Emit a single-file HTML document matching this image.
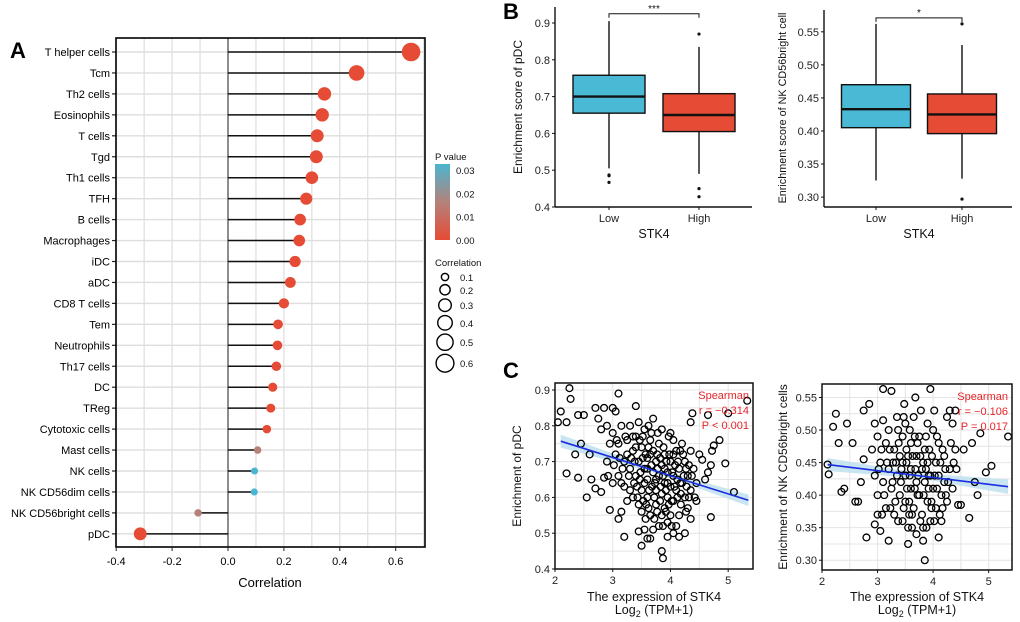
<!DOCTYPE html>
<html><head><meta charset="utf-8">
<style>
html,body{margin:0;padding:0;background:#fff;}
svg{display:block;font-family:"Liberation Sans",Arial,sans-serif;}
</style></head>
<body>
<svg id="fig" width="1020" height="622" viewBox="0 0 1020 622">
<text x="10" y="58" font-size="22" font-weight="bold">A</text>
<text x="503" y="19" font-size="22" font-weight="bold">B</text>
<text x="503" y="378" font-size="22" font-weight="bold">C</text>
<g id="pa"></g>
<g id="pb1"></g>
<g id="pb2"></g>
<g id="pc1"></g>
<g id="pc2"></g>
</svg>
<script>
// ---------- Panel A data ----------
const cellTypes = ["T helper cells","Tcm","Th2 cells","Eosinophils","T cells","Tgd","Th1 cells","TFH","B cells","Macrophages","iDC","aDC","CD8 T cells","Tem","Neutrophils","Th17 cells","DC","TReg","Cytotoxic cells","Mast cells","NK cells","NK CD56dim cells","NK CD56bright cells","pDC"];
const corrValues = [0.655,0.46,0.345,0.337,0.319,0.316,0.30,0.28,0.258,0.255,0.24,0.223,0.2,0.179,0.177,0.173,0.16,0.153,0.139,0.106,0.095,0.094,-0.107,-0.314];
const pValues = [0,0,0,0,0,0,0,0,0,0,0,0,0,0,0,0,0,0,0,0.017,0.03,0.031,0.017,0];
const corrTicks = [-0.4,-0.2,0.0,0.2,0.4,0.6];
const corrTickLabels = ["-0.4","-0.2","0.0","0.2","0.4","0.6"];
const pLegendTicks = [0.03,0.02,0.01,0.00];
const sizeLegend = [0.1,0.2,0.3,0.4,0.5,0.6];

// ---------- Panel B data ----------
const groups = ["Low","High"];
const pdcBox = [[0.505,0.655,0.70,0.758,0.905],[0.49,0.605,0.65,0.708,0.835]];
const pdcOut = [[0.487,0.485,0.467],[0.87,0.45,0.428]];
const pdcTicks = [0.4,0.5,0.6,0.7,0.8,0.9];
const nkBox = [[0.325,0.405,0.433,0.47,0.562],[0.328,0.396,0.425,0.456,0.53]];
const nkOut = [[],[0.297,0.562]];
const nkTicks = [0.30,0.35,0.40,0.45,0.50,0.55];

// ---------- Panel C data ----------
const pdcPts = [[2.05,0.81],[2.1,0.84],[2.2,0.81],[2.25,0.905],[2.27,0.875],[2.2,0.667],[2.35,0.72],[2.4,0.83],[2.45,0.75],[2.5,0.83],[2.55,0.6],[2.4,0.655],[2.6,0.72],[2.63,0.65],[2.7,0.625],[2.7,0.85],[2.75,0.82],[2.8,0.79],[2.85,0.85],[2.8,0.615],[2.85,0.655],[2.95,0.565],[3.0,0.85],[3.05,0.84],[3.1,0.54],[3.1,0.89],[3.15,0.56],[3.2,0.49],[3.25,0.59],[3.4,0.855],[3.45,0.505],[3.5,0.465],[3.6,0.485],[3.65,0.485],[3.85,0.45],[3.87,0.43],[3.95,0.49],[4.05,0.5],[4.15,0.49],[4.25,0.5],[4.35,0.54],[4.45,0.59],[4.7,0.545],[4.6,0.65],[4.7,0.69],[4.75,0.745],[4.72,0.73],[4.85,0.76],[4.95,0.695],[5.0,0.835],[5.1,0.615],[5.33,0.87],[4.65,0.83],[4.35,0.81],[4.38,0.835],[4.5,0.72],[4.55,0.705],[4.65,0.67],
[3.0,0.78],[3.05,0.72],[3.1,0.66],[3.1,0.75],[3.15,0.8],[3.2,0.7],[3.2,0.63],[3.25,0.76],[3.3,0.68],[3.3,0.8],[3.35,0.73],[3.35,0.6],[3.4,0.77],[3.4,0.66],[3.45,0.7],[3.45,0.81],[3.5,0.62],[3.5,0.74],[3.5,0.56],[3.55,0.68],[3.55,0.79],[3.6,0.71],[3.6,0.6],[3.6,0.65],[3.65,0.76],[3.65,0.55],[3.7,0.67],[3.7,0.73],[3.7,0.82],[3.75,0.62],[3.75,0.58],[3.75,0.7],[3.8,0.66],[3.8,0.75],[3.8,0.52],[3.85,0.61],[3.85,0.69],[3.85,0.79],[3.9,0.64],[3.9,0.57],[3.9,0.72],[3.95,0.67],[3.95,0.6],[4.0,0.7],[4.0,0.63],[4.0,0.55],[4.0,0.78],[4.05,0.66],[4.05,0.59],[4.1,0.73],[4.1,0.62],[4.15,0.68],[4.15,0.55],[4.2,0.64],[4.2,0.75],[4.25,0.6],[4.25,0.7],[4.3,0.66],[4.3,0.57],[4.35,0.73],[4.35,0.62],[4.4,0.68],[4.45,0.64],[3.55,0.51],[3.7,0.51],[3.95,0.53],[4.1,0.52],[3.3,0.62],[3.15,0.64],[2.9,0.7],[2.95,0.75],[2.9,0.8],[3.0,0.64],[3.25,0.72],[3.42,0.63],[3.58,0.58],[3.68,0.63],[3.78,0.68],[3.88,0.74],[3.98,0.72],[4.08,0.69],[4.18,0.61],[4.28,0.63],[3.62,0.8],[3.48,0.67],[3.38,0.7],[3.82,0.59],[3.92,0.56],[4.02,0.59],[3.72,0.6],[3.6,0.68],[3.65,0.72],[3.9,0.68],[4.12,0.65],[3.35,0.77],[3.52,0.77],[3.78,0.78],[4.05,0.76],[4.22,0.72],[3.45,0.58],[3.62,0.57],[4.18,0.58],[3.28,0.66],[3.12,0.71],[3.02,0.69],[2.92,0.66],[4.32,0.69],[4.42,0.6],[3.75,0.65],[3.95,0.64],[3.55,0.64],[3.4,0.74],[3.85,0.55],[4.05,0.72],
[3.32,0.71],[3.47,0.76],[3.57,0.72],[3.67,0.69],[3.73,0.64],[3.83,0.63],[3.93,0.7],[4.03,0.67],[4.13,0.7],[4.23,0.66],[3.43,0.6],[3.53,0.59],[3.63,0.62],[3.77,0.56],[3.87,0.66],[3.97,0.58],[4.07,0.63],[4.17,0.64],[4.27,0.68],[4.37,0.66],[3.22,0.77],[3.37,0.64],[3.52,0.71],[3.67,0.78],[3.82,0.71],[3.97,0.77],[4.12,0.6],[4.27,0.56],[3.07,0.76],[3.17,0.68],[3.57,0.54],[3.72,0.54],[3.87,0.52],[4.02,0.52],[3.62,0.74],[3.92,0.62],[4.32,0.6],[3.47,0.65],[3.77,0.72],[4.17,0.73]];
const nkPts = [[2.1,0.447],[2.12,0.432],[2.2,0.505],[2.25,0.525],[2.3,0.48],[2.35,0.405],[2.4,0.41],[2.45,0.51],[2.55,0.48],[2.6,0.39],[2.65,0.39],[2.7,0.42],[2.75,0.455],[2.75,0.53],[2.8,0.335],[2.85,0.54],[2.95,0.355],[3.0,0.37],[3.05,0.345],[3.1,0.515],[3.1,0.563],[3.2,0.33],[3.25,0.56],[3.55,0.325],[3.85,0.3],[3.82,0.33],[3.95,0.563],[4.1,0.335],[4.35,0.51],[4.4,0.53],[4.55,0.47],[4.65,0.365],[4.7,0.48],[4.75,0.42],[4.8,0.4],[4.85,0.495],[4.95,0.435],[5.05,0.445],[5.35,0.49],[4.5,0.385],[4.45,0.385],[4.25,0.52],[4.3,0.53],
[2.9,0.47],[2.95,0.43],[3.0,0.49],[3.0,0.4],[3.05,0.45],[3.1,0.42],[3.15,0.48],[3.15,0.38],[3.2,0.5],[3.2,0.44],[3.25,0.41],[3.3,0.47],[3.3,0.37],[3.35,0.43],[3.35,0.52],[3.4,0.4],[3.4,0.46],[3.45,0.49],[3.45,0.36],[3.5,0.43],[3.5,0.39],[3.5,0.51],[3.55,0.46],[3.55,0.35],[3.6,0.41],[3.6,0.48],[3.6,0.44],[3.65,0.38],[3.65,0.52],[3.7,0.42],[3.7,0.46],[3.7,0.34],[3.75,0.4],[3.75,0.49],[3.8,0.44],[3.8,0.37],[3.85,0.42],[3.85,0.47],[3.9,0.39],[3.9,0.45],[3.95,0.36],[3.95,0.43],[4.0,0.5],[4.0,0.41],[4.05,0.38],[4.05,0.45],[4.1,0.43],[4.1,0.48],[4.15,0.4],[4.15,0.36],[4.2,0.46],[4.2,0.42],[4.25,0.39],[4.3,0.44],[4.35,0.41],[4.4,0.47],[3.58,0.5],[3.68,0.55],[3.48,0.54],[3.38,0.48],[3.28,0.45],[3.12,0.4],[3.02,0.44],[3.9,0.51],[4.02,0.53],[3.78,0.53],[4.12,0.37],[3.62,0.37],[3.42,0.42],[3.72,0.4],[3.82,0.45],[3.92,0.41],[4.22,0.44],[3.52,0.47],[3.32,0.39],[3.22,0.47],[4.32,0.48],[3.88,0.35],[3.58,0.43],[3.68,0.44],[2.95,0.51],[3.08,0.37],[4.42,0.44],[3.98,0.46],[3.45,0.45],
[3.33,0.45],[3.43,0.44],[3.53,0.41],[3.63,0.46],[3.73,0.43],[3.83,0.4],[3.93,0.47],[4.03,0.43],[4.13,0.45],[4.23,0.4],[3.27,0.42],[3.37,0.5],[3.47,0.38],[3.57,0.39],[3.67,0.41],[3.77,0.46],[3.87,0.44],[3.97,0.39],[4.07,0.41],[4.17,0.47],[3.17,0.45],[3.07,0.47],[3.37,0.36],[3.57,0.37],[3.77,0.36],[3.97,0.38],[4.17,0.38],[4.37,0.45],[3.47,0.52],[3.67,0.49],[3.87,0.49],[4.07,0.49],[3.62,0.35],[3.82,0.35],[4.02,0.36],[3.52,0.45],[3.72,0.48],[3.92,0.43],[4.27,0.42],[3.23,0.38]];
const pdcFitX = [2.1,5.35];
const pdcFitY = [0.757,0.592];
const pdcBandW = [0.018,0.006,0.016];
const nkFitX = [2.1,5.35];
const nkFitY = [0.447,0.413];
const nkBandW = [0.010,0.004,0.011];
const pdcStats = ["Spearman","r = \u22120.314","P < 0.001"];
const nkStats = ["Spearman","r = \u22120.106","P = 0.017"];
const scatterXTicks = [2,3,4,5];
const pdcScatTicks = [0.4,0.5,0.6,0.7,0.8,0.9];
const nkScatTicks = [0.30,0.35,0.40,0.45,0.50,0.55];

const NS="http://www.w3.org/2000/svg";
function mk(parent,tag,attrs,text){const e=document.createElementNS(NS,tag);for(const k in attrs)e.setAttribute(k,attrs[k]);if(text!==undefined)e.textContent=text;parent.appendChild(e);return e;}

// ===== Panel A =====
(function(){
const g=document.getElementById('pa');
const L=116,R=425,T=38,B=547;
const x=v=>228+v*279.5;
const rowY=i=>52+i*20.95;
const rad=c=>11.5*Math.sqrt(Math.abs(c));
function pcol(p){const t=Math.min(p/0.03,1);
 const a=[230,75,53],m=[184,128,120],b=[74,181,208];
 let c; if(t<0.55){const u=t/0.55;c=a.map((v,i)=>v+(m[i]-v)*u);}else{const u=(t-0.55)/0.45;c=m.map((v,i)=>v+(b[i]-v)*u);}
 return 'rgb('+c.map(Math.round).join(',')+')';}
for(let v=-0.4;v<=0.701;v+=0.1){const gl=mk(g,'line',{x1:x(v),x2:x(v),y1:T,y2:B,stroke:'#dedede','stroke-width':1.2});
}
cellTypes.forEach((n,i)=>{const gl=mk(g,'line',{x1:L,x2:R,y1:rowY(i),y2:rowY(i),stroke:'#dedede','stroke-width':1.4});
});
const zl=mk(g,'line',{x1:x(0),x2:x(0),y1:T,y2:B,stroke:'#222','stroke-width':1});

cellTypes.forEach((n,i)=>{
 const y=rowY(i);
 const st=mk(g,'line',{x1:x(0),x2:x(corrValues[i]),y1:y,y2:y,stroke:'#111','stroke-width':1.5});
 
 const c=mk(g,'circle',{cx:x(corrValues[i]),cy:y,r:rad(corrValues[i]),fill:pcol(pValues[i])});
 
 const tk=mk(g,'line',{x1:L-4,x2:L,y1:y,y2:y,stroke:'#222','stroke-width':1.2});
 
 const t=mk(g,'text',{x:L-6,y:y+4,'font-size':11,'text-anchor':'end',fill:'#000'},n);
 
});
const fr=mk(g,'rect',{x:L,y:T,width:R-L,height:B-T,fill:'none',stroke:'#000','stroke-width':1.6});

corrTicks.forEach((v,i)=>{
 const tk=mk(g,'line',{x1:x(v),x2:x(v),y1:B,y2:B+4,stroke:'#222'});
 
 const t=mk(g,'text',{x:x(v),y:B+18,'font-size':11,'text-anchor':'middle',fill:'#000'},corrTickLabels[i]);
 
});
const xt=mk(g,'text',{x:270,y:587,'font-size':13,'text-anchor':'middle',fill:'#000'},'Correlation');

// legend
const lt=mk(g,'text',{x:435,y:160,'font-size':9.5,fill:'#111'},'P value');

const defs=mk(g,'defs',{});const lg=mk(defs,'linearGradient',{id:'pgrad',x1:0,y1:0,x2:0,y2:1});
mk(lg,'stop',{offset:'0%','stop-color':pcol(0.031)});mk(lg,'stop',{offset:'50%','stop-color':pcol(0.017)});mk(lg,'stop',{offset:'100%','stop-color':pcol(0)});
const cb=mk(g,'rect',{x:435,y:164,width:15,height:76,fill:'url(#pgrad)'});

pLegendTicks.forEach(p=>{const yy=240-(p/0.03)*70;
 const t=mk(g,'text',{x:456,y:yy+4,'font-size':9.5,fill:'#111'},p.toFixed(2));
 });
const ct=mk(g,'text',{x:435,y:266,'font-size':9.5,fill:'#111'},'Correlation');

let ly=277;sizeLegend.forEach((s,i)=>{if(i>0)ly+=rad(s)+rad(sizeLegend[i-1])+4;
 const c=mk(g,'circle',{cx:445,cy:ly,r:rad(s),fill:'none',stroke:'#000','stroke-width':1.4});
 
 const t=mk(g,'text',{x:460,y:ly+4,'font-size':9.5,fill:'#111'},s.toFixed(1));
 });
})();

// ===== Panel B =====
function boxPanel(id,ax,data,outs,ticks,dec,vmin,vmax,sig,bracketV,title,bw,tfs){
 const g=document.getElementById(id);
 const y=v=>ax.B-(v-vmin)/(vmax-vmin)*(ax.B-ax.T);
 const xs=[ax.cx0,ax.cx1];const cols=['#4ab9d6','#e64b35'];
 const yl=mk(g,'line',{x1:ax.L,x2:ax.L,y1:ax.T,y2:ax.B,stroke:'#111','stroke-width':1.4});
 
 const xl=mk(g,'line',{x1:ax.L,x2:ax.R,y1:ax.B,y2:ax.B,stroke:'#111','stroke-width':1.4});
 
 ticks.forEach(v=>{const tk=mk(g,'line',{x1:ax.L-3,x2:ax.L,y1:y(v),y2:y(v),stroke:'#111'});
  
  const t=mk(g,'text',{x:ax.L-5,y:y(v)+4,'font-size':11,'text-anchor':'end',fill:'#222'},v.toFixed(dec));
  });
 data.forEach((d,i)=>{const cx=xs[i];
  const w=mk(g,'line',{x1:cx,x2:cx,y1:y(d[0]),y2:y(d[4]),stroke:'#111','stroke-width':1.4});
  
  const r=mk(g,'rect',{x:cx-bw/2,y:y(d[3]),width:bw,height:y(d[1])-y(d[3]),fill:cols[i],stroke:'#111','stroke-width':1.4});
  
  const m=mk(g,'line',{x1:cx-bw/2,x2:cx+bw/2,y1:y(d[2]),y2:y(d[2]),stroke:'#111','stroke-width':2.4});
  
  outs[i].forEach(o=>{const c=mk(g,'circle',{cx:cx,cy:y(o),r:1.6,fill:'#111'});
   });
  const tk=mk(g,'line',{x1:cx,x2:cx,y1:ax.B,y2:ax.B+3,stroke:'#111'});
  
  const t=mk(g,'text',{x:cx,y:ax.B+15,'font-size':11,'text-anchor':'middle',fill:'#222'},groups[i]);
  });
 const by=y(bracketV);
 const br=mk(g,'path',{d:`M${xs[0]},${by+4}V${by}H${xs[1]}V${by+4}`,fill:'none',stroke:'#111','stroke-width':1});
 
 const st=mk(g,'text',{x:(xs[0]+xs[1])/2,y:by-2,'font-size':10,'text-anchor':'middle',fill:'#111'},sig);
 
 const xt=mk(g,'text',{x:(xs[0]+xs[1])/2,y:ax.B+31,'font-size':12.5,'text-anchor':'middle',fill:'#111'},'STK4');
 
 const yt=mk(g,'text',{x:0,y:0,'font-size':tfs,'text-anchor':'middle',fill:'#111',transform:`translate(${ax.yt},${ax.ytc}) rotate(-90)`},title);
 
}
boxPanel('pb1',{L:555,R:752,T:7,B:207,cx0:609,cx1:699,yt:522,ytc:107},pdcBox,pdcOut,pdcTicks,1,0.4,0.9435,'***',0.925,'Enrichment score of pDC',72,12);
boxPanel('pb2',{L:824,R:1012,T:10,B:207,cx0:876,cx1:962,yt:786,ytc:108},nkBox,nkOut,nkTicks,2,0.285,0.583,'*',0.571,'Enrichment score of NK CD56bright cell',69,10.8);

// ===== Panel C =====
function scatPanel(id,ax,pts,fx,fy,bw,ticks,dec,stats,title){
 const g=document.getElementById(id);
 const x=v=>ax.L+(v-ax.x0)/(ax.x1-ax.x0)*(ax.R-ax.L);
 const y=v=>ax.B-(v-ax.y0)/(ax.y1-ax.y0)*(ax.B-ax.T);
 const step=(ticks[1]-ticks[0])/2;
 for(let v=ax.x0;v<=ax.x1;v+=0.5){const gl=mk(g,'line',{x1:x(v),x2:x(v),y1:ax.T,y2:ax.B,stroke:'#e4e4e4'});
  }
 for(let v=ticks[0];v<=ax.y1;v+=step){const gl=mk(g,'line',{x1:ax.L,x2:ax.R,y1:y(v),y2:y(v),stroke:'#e4e4e4'});
  }
 const xm=(fx[0]+fx[1])/2,ym=(fy[0]+fy[1])/2;
 const band=`M${x(fx[0])},${y(fy[0]+bw[0])}L${x(xm)},${y(ym+bw[1])}L${x(fx[1])},${y(fy[1]+bw[2])}L${x(fx[1])},${y(fy[1]-bw[2])}L${x(xm)},${y(ym-bw[1])}L${x(fx[0])},${y(fy[0]-bw[0])}Z`;
 const bd=mk(g,'path',{d:band,fill:'#bfe0ee',opacity:0.85});
 
 pts.forEach(p=>{const c=mk(g,'circle',{cx:x(p[0]),cy:y(p[1]),r:3.4,fill:'none',stroke:'#000','stroke-width':1.3});
  });
 const fl=mk(g,'line',{x1:x(fx[0]),y1:y(fy[0]),x2:x(fx[1]),y2:y(fy[1]),stroke:'#1a2ee0','stroke-width':1.6});
 
 const fr=mk(g,'rect',{x:ax.L,y:ax.T,width:ax.R-ax.L,height:ax.B-ax.T,fill:'none',stroke:'#111','stroke-width':1.5});
 
 ticks.forEach(v=>{const tk=mk(g,'line',{x1:ax.L-3,x2:ax.L,y1:y(v),y2:y(v),stroke:'#111'});
  
  const t=mk(g,'text',{x:ax.L-5,y:y(v)+4,'font-size':11,'text-anchor':'end',fill:'#222'},v.toFixed(dec));
  });
 scatterXTicks.forEach(v=>{const tk=mk(g,'line',{x1:x(v),x2:x(v),y1:ax.B,y2:ax.B+3,stroke:'#111'});
  
  const t=mk(g,'text',{x:x(v),y:ax.B+15,'font-size':11,'text-anchor':'middle',fill:'#222'},String(v));
  });
 stats.forEach((s,i)=>{const t=mk(g,'text',{x:ax.R-4,y:ax.T+16+i*15,'font-size':11,'text-anchor':'end',fill:'#e8242a'},s);
  });
 const cx=(ax.L+ax.R)/2;
 const xt=mk(g,'text',{x:cx,y:601,'font-size':12.5,'text-anchor':'middle',fill:'#111'},'The expression of STK4');
 
 const xt2=mk(g,'text',{x:cx,y:614,'font-size':12.5,'text-anchor':'middle',fill:'#111'});
 
 xt2.innerHTML='Log<tspan font-size="9" dy="3">2</tspan><tspan dy="-3"> (TPM+1)</tspan>';
 const yt=mk(g,'text',{x:0,y:0,'font-size':12,'text-anchor':'middle',fill:'#111',transform:`translate(${ax.yt},${(ax.T+ax.B)/2}) rotate(-90)`},title);
 
}
scatPanel('pc1',{L:555,R:753,T:383,B:569,x0:2,x1:5.43,y0:0.4,y1:0.9195,yt:521},pdcPts,pdcFitX,pdcFitY,pdcBandW,pdcScatTicks,1,pdcStats,'Enrichment of pDC');
scatPanel('pc2',{L:822,R:1012,T:384,B:570,x0:2,x1:5.42,y0:0.285,y1:0.5707,yt:787},nkPts,nkFitX,nkFitY,nkBandW,nkScatTicks,2,nkStats,'Enrichment of NK CD56bright cells');
</script>
</body></html>
